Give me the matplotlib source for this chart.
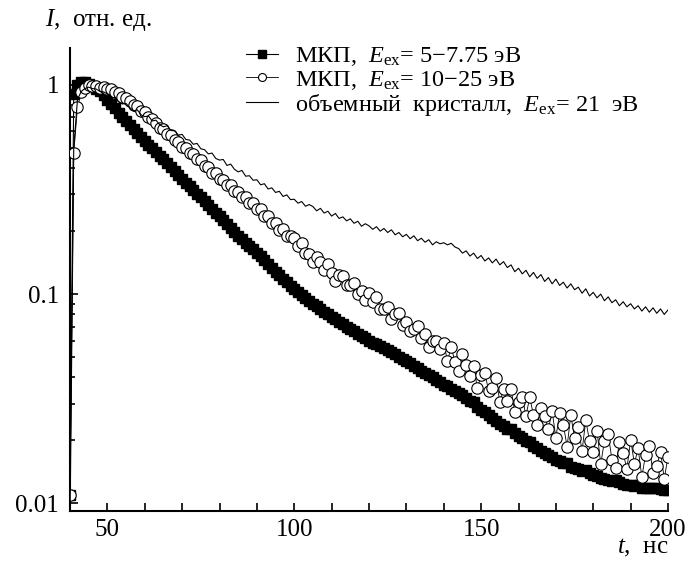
import numpy as np
import matplotlib
matplotlib.use("Agg")
import matplotlib.pyplot as plt
from matplotlib.ticker import FixedLocator, MultipleLocator, NullFormatter, LogLocator

plt.rcParams['font.family'] = ['Liberation Serif', 'DejaVu Serif']
plt.rcParams['mathtext.fontset'] = 'custom'
plt.rcParams['mathtext.rm'] = 'Liberation Serif'
plt.rcParams['mathtext.it'] = 'Liberation Serif:italic'

# time grid, ns (one sample per ns, 40..200)
t_ns = np.arange(40, 201, 1)

# МКП, E_ex = 5-7.75 эВ (filled squares)
mcp_low = [
    0.011, 0.9, 1.0, 1.03, 1.03, 1.01, 0.99, 0.96, 0.93, 0.89,
    0.85, 0.81, 0.773, 0.737, 0.703, 0.67, 0.642, 0.615, 0.589, 0.564,
    0.54, 0.518, 0.498, 0.478, 0.459, 0.44, 0.421, 0.404, 0.387, 0.371,
    0.355, 0.341, 0.327, 0.314, 0.302, 0.29, 0.278, 0.267, 0.256, 0.245,
    0.235, 0.225, 0.216, 0.207, 0.198, 0.19, 0.183, 0.176, 0.17, 0.164,
    0.158, 0.152, 0.146, 0.139, 0.133, 0.128, 0.123, 0.118, 0.114, 0.109,
    0.106, 0.1026, 0.0993, 0.0961, 0.093, 0.090, 0.0875, 0.085, 0.0826, 0.0803,
    0.078, 0.0759, 0.0738, 0.0718, 0.0699, 0.068, 0.0663, 0.0647, 0.0631, 0.0615,
    0.060, 0.0587, 0.0575, 0.0563, 0.0551, 0.054, 0.0527, 0.0515, 0.0503, 0.0491,
    0.048, 0.0467, 0.0455, 0.0443, 0.0431, 0.042, 0.041, 0.040, 0.039, 0.038,
    0.037, 0.0362, 0.0353, 0.0345, 0.0337, 0.033, 0.0319, 0.0309, 0.0305, 0.0289,
    0.028, 0.0272, 0.0264, 0.0256, 0.0248, 0.024, 0.0234, 0.0228, 0.0226, 0.0216,
    0.021, 0.0205, 0.0199, 0.0197, 0.0188, 0.0183, 0.0179, 0.0174, 0.017, 0.0166,
    0.0162, 0.0159, 0.0156, 0.0156, 0.015, 0.0148, 0.0146, 0.0143, 0.0144, 0.0139,
    0.0137, 0.0135, 0.0133, 0.0131, 0.013, 0.0128, 0.0129, 0.0126, 0.0124, 0.0123,
    0.0122, 0.0121, 0.0122, 0.0119, 0.0119, 0.0118, 0.0118, 0.0119, 0.0117, 0.0116, 0.0116,
]

# МКП, E_ex = 10-25 эВ (open circles)
mcp_high = [
    0.011, 0.47, 0.78, 0.92, 0.97, 0.995, 0.985, 0.99, 0.97, 0.975,
    0.955, 0.955, 0.925, 0.915, 0.875, 0.865, 0.84, 0.80, 0.79, 0.748,
    0.738, 0.70, 0.686, 0.66, 0.625, 0.618, 0.582, 0.574, 0.545, 0.535,
    0.503, 0.5, 0.47, 0.466, 0.44, 0.436, 0.41, 0.404, 0.38, 0.378,
    0.355, 0.352, 0.333, 0.331, 0.31, 0.309, 0.29, 0.291, 0.272, 0.272,
    0.255, 0.254, 0.236, 0.236, 0.218, 0.219, 0.202, 0.204, 0.189, 0.19,
    0.185, 0.169, 0.175, 0.158, 0.156, 0.1425, 0.151, 0.143, 0.131, 0.139,
    0.126, 0.116, 0.124, 0.122, 0.110, 0.110, 0.113, 0.100, 0.104, 0.094,
    0.101, 0.092, 0.097, 0.085, 0.085, 0.087, 0.076, 0.080, 0.081, 0.071,
    0.074, 0.0665, 0.068, 0.0706, 0.062, 0.0645, 0.056, 0.060, 0.060, 0.0544,
    0.0583, 0.0481, 0.0558, 0.0476, 0.0428, 0.0515, 0.0458, 0.0405, 0.0455, 0.0355,
    0.041, 0.0422, 0.0344, 0.0356, 0.0396, 0.0306, 0.0352, 0.0308, 0.0354, 0.0274,
    0.0306, 0.0323, 0.0262, 0.0321, 0.0265, 0.0238, 0.0285, 0.0261, 0.0227, 0.0276,
    0.0206, 0.0271, 0.0237, 0.0187, 0.0264, 0.0205, 0.0233, 0.0178, 0.025, 0.0198,
    0.0176, 0.0223, 0.0154, 0.0199, 0.0215, 0.0162, 0.0148, 0.0197, 0.0174, 0.0146,
    0.0202, 0.0155, 0.0183, 0.0134, 0.0171, 0.0188, 0.0139, 0.0151, 0.0177, 0.0131, 0.0167,
]

# объемный кристалл, E_ex = 21 эВ (thin line)
bulk = [
    0.008, 0.5, 0.85, 0.93, 0.96, 0.975, 0.96, 0.955, 0.93, 0.925,
    0.905, 0.87, 0.87, 0.832, 0.81, 0.815, 0.778, 0.75, 0.76, 0.72,
    0.705, 0.71, 0.672, 0.678, 0.645, 0.63, 0.638, 0.605, 0.603, 0.575,
    0.58, 0.548, 0.545, 0.52, 0.525, 0.495, 0.49, 0.468, 0.472, 0.445,
    0.437, 0.44, 0.412, 0.418, 0.395, 0.384, 0.39, 0.366, 0.368, 0.35,
    0.352, 0.333, 0.337, 0.318, 0.322, 0.306, 0.31, 0.293, 0.298, 0.283,
    0.284, 0.272, 0.277, 0.263, 0.268, 0.262, 0.25, 0.257, 0.244, 0.249,
    0.236, 0.243, 0.23, 0.234, 0.224, 0.229, 0.218, 0.223, 0.211, 0.217,
    0.212, 0.204, 0.21, 0.2, 0.206, 0.197, 0.203, 0.192, 0.197, 0.188,
    0.193, 0.184, 0.19, 0.18, 0.185, 0.177, 0.182, 0.172, 0.178, 0.174,
    0.176, 0.172, 0.175, 0.168, 0.165, 0.157, 0.161, 0.152, 0.157, 0.148,
    0.153, 0.144, 0.149, 0.141, 0.147, 0.138, 0.143, 0.134, 0.138, 0.128,
    0.133, 0.125, 0.13, 0.121, 0.127, 0.119, 0.124, 0.115, 0.12, 0.112,
    0.118, 0.11, 0.114, 0.107, 0.112, 0.105, 0.108, 0.101, 0.106, 0.098,
    0.102, 0.096, 0.1, 0.093, 0.097, 0.091, 0.094, 0.088, 0.092, 0.087,
    0.09, 0.085, 0.088, 0.083, 0.087, 0.082, 0.086, 0.081, 0.085, 0.08, 0.084,
]

labels = [
    "МКП,  $E_{\\mathrm{ex}}$= 5−7.75 эВ",
    "МКП,  $E_{\\mathrm{ex}}$= 10−25 эВ",
    "объемный  кристалл,  $E_{\\mathrm{ex}}$= 21  эВ",
]
x_major = [50, 100, 150, 200]
y_major = [0.01, 0.1, 1]
y_major_labels = ["0.01", "0.1", "1"]

FS = 18
fig = plt.figure(figsize=(6.88, 5.66), dpi=100)
ax = fig.add_axes([70/688, 1-511/566, 598/688, 463/566])

ax.plot(t_ns, mcp_low, color='black', lw=0.8, marker='s', ms=7.3,
        mfc='black', mec='black', label=labels[0], zorder=2)
ax.plot(t_ns, mcp_high, color='black', lw=0.6, marker='o', ms=8.2,
        mfc='white', mec='black', mew=0.8, label=labels[1], zorder=3)
ax.plot(t_ns, bulk, color='black', lw=0.8, label=labels[2], zorder=4)

ax.set_yscale('log')
ax.set_xlim(40, 200)
ax.set_ylim(0.0092, 1.5)

for s in ['top', 'right']:
    ax.spines[s].set_visible(False)
for s in ['left', 'bottom']:
    ax.spines[s].set_linewidth(1.5)

ax.xaxis.set_major_locator(FixedLocator(x_major))
ax.xaxis.set_minor_locator(MultipleLocator(10))
ax.yaxis.set_major_locator(FixedLocator(y_major))
ax.set_yticklabels(y_major_labels)
ax.yaxis.set_minor_locator(LogLocator(base=10, subs=np.arange(2, 10)))
ax.yaxis.set_minor_formatter(NullFormatter())

ax.tick_params(axis='both', which='both', direction='in', labelsize=FS, width=1.2)
ax.tick_params(axis='x', which='major', length=6, pad=6)
ax.tick_params(axis='x', which='minor', length=6)
ax.tick_params(axis='y', which='major', length=6, pad=8)
ax.tick_params(axis='y', which='minor', length=3.5)

leg = ax.legend(loc='upper left', bbox_to_anchor=(246/688, 1-45/566),
                bbox_transform=fig.transFigure, frameon=False, fontsize=17.5,
                handlelength=1.3, handletextpad=0.7, labelspacing=0.02,
                borderpad=0, borderaxespad=0, markerscale=0.7)

fig.text(45/688, 1-20/566, "$I$,  отн. ед.", fontsize=FS, ha='left', va='center')
fig.text(668/688, 1-548/566, "$t$,  нс", fontsize=FS, ha='right', va='center')

fig.savefig("out.png", dpi=100)
